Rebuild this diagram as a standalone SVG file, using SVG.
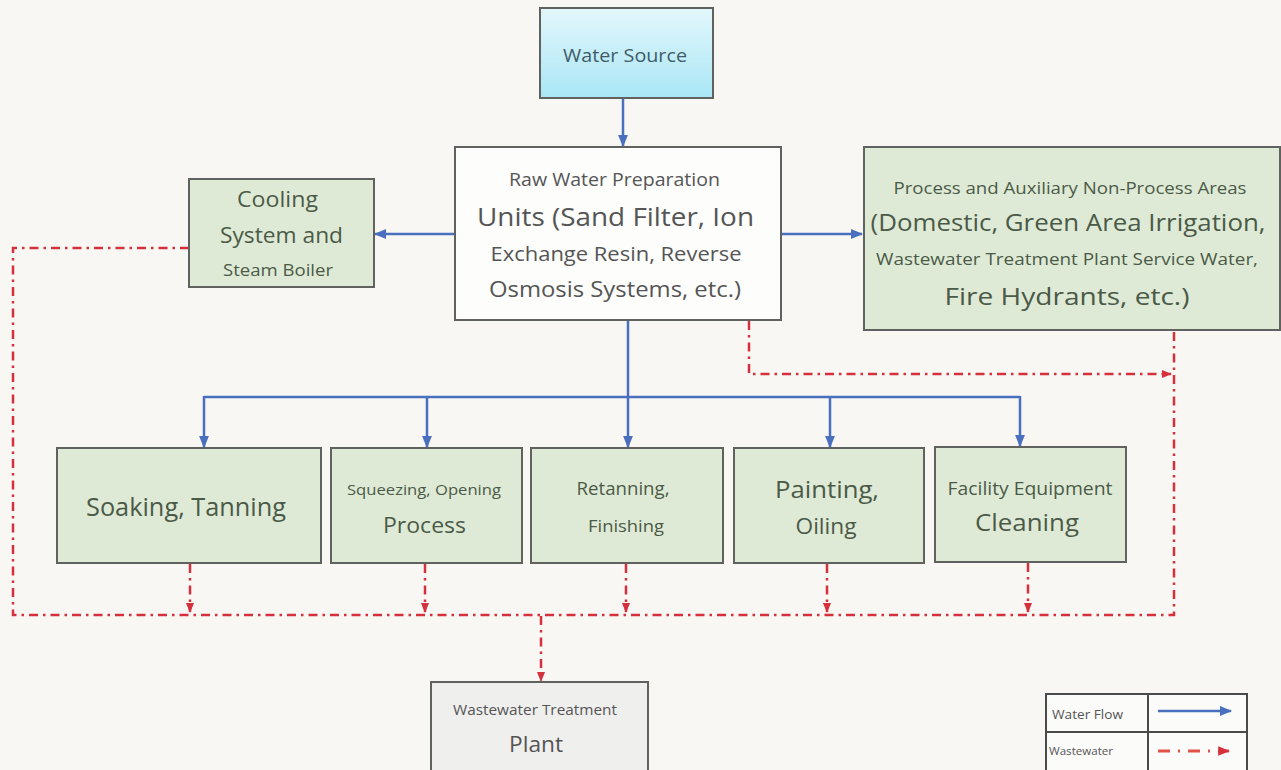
<svg xmlns="http://www.w3.org/2000/svg" width="1281" height="770" viewBox="0 0 1281 770">
<defs>
<linearGradient id="gWater" x1="0" y1="0" x2="0" y2="1">
<stop offset="0" stop-color="#e3f7fb"/>
<stop offset="1" stop-color="#a9e6f5"/>
</linearGradient>
<marker id="ab" viewBox="0 0 10 10" refX="9" refY="5" markerWidth="5" markerHeight="5" orient="auto" markerUnits="strokeWidth">
<path d="M0,1 L10,5 L0,9 z" fill="#4a6fbf"/>
</marker>
<marker id="ar" viewBox="0 0 10 10" refX="9" refY="5" markerWidth="4" markerHeight="4" orient="auto" markerUnits="strokeWidth">
<path d="M0,1 L10,5 L0,9 z" fill="#d6303d"/>
</marker>
<style>
.bg{fill:#f8f7f3}
.box{stroke:#5f625e;stroke-width:2}
.green{fill:#deead5}
.t{font-family:"Open Sans",Roboto,"Liberation Sans",sans-serif;text-anchor:middle}
.tg{fill:#4b5a48}
.tk{fill:#555555}
.blue{fill:none;stroke:#4a6fbf;stroke-width:2.5}
.red{fill:none;stroke:#d6303d;stroke-width:2.5;stroke-dasharray:9 5 2.5 5}
</style>
</defs>
<rect class="bg" x="0" y="0" width="1281" height="770"/>

<g id="connectors">
<line class="blue" x1="623" y1="99" x2="623" y2="146" marker-end="url(#ab)"/>
<line class="blue" x1="455" y1="234" x2="375" y2="234" marker-end="url(#ab)"/>
<line class="blue" x1="782" y1="234" x2="862" y2="234" marker-end="url(#ab)"/>
<line class="blue" x1="628" y1="321" x2="628" y2="447" marker-end="url(#ab)"/>
<line class="blue" x1="204" y1="397" x2="1020" y2="397"/>
<line class="blue" x1="204" y1="396" x2="204" y2="447" marker-end="url(#ab)"/>
<line class="blue" x1="427" y1="397" x2="427" y2="447" marker-end="url(#ab)"/>
<line class="blue" x1="830" y1="397" x2="830" y2="447" marker-end="url(#ab)"/>
<line class="blue" x1="1020" y1="396" x2="1020" y2="446" marker-end="url(#ab)"/>

<polyline class="red" points="189,248 13,248 13,615 1174,615 1174,331"/>
<polyline class="red" points="749,321 749,374 1171,374" marker-end="url(#ar)"/>
<line class="red" x1="190" y1="564" x2="190" y2="612" marker-end="url(#ar)"/>
<line class="red" x1="425" y1="564" x2="425" y2="612" marker-end="url(#ar)"/>
<line class="red" x1="626" y1="564" x2="626" y2="612" marker-end="url(#ar)"/>
<line class="red" x1="827" y1="564" x2="827" y2="612" marker-end="url(#ar)"/>
<line class="red" x1="1028" y1="563" x2="1028" y2="612" marker-end="url(#ar)"/>
<line class="red" x1="541" y1="616" x2="541" y2="681" marker-end="url(#ar)"/>
</g>

<g id="water-source">
<rect class="box" x="540" y="8" width="173" height="90" fill="url(#gWater)"/>
<text class="t" x="625" y="62" font-size="18.5" fill="#3e5c68" textLength="124" lengthAdjust="spacingAndGlyphs">Water Source</text>
</g>

<g id="raw-water">
<rect class="box" x="455" y="147" width="326" height="173" fill="#fdfdfc"/>
<text class="t tk" x="614.5" y="186" font-size="18" textLength="211" lengthAdjust="spacingAndGlyphs">Raw Water Preparation</text>
<text class="t tk" x="615.5" y="226" font-size="25" textLength="277" lengthAdjust="spacingAndGlyphs">Units (Sand Filter, Ion</text>
<text class="t tk" x="616" y="261" font-size="20" textLength="251" lengthAdjust="spacingAndGlyphs">Exchange Resin, Reverse</text>
<text class="t tk" x="615" y="297" font-size="21" textLength="252" lengthAdjust="spacingAndGlyphs">Osmosis Systems, etc.)</text>
</g>

<g id="cooling">
<rect class="box green" x="189" y="179" width="185" height="108"/>
<text class="t tg" x="277.5" y="207" font-size="21" textLength="81" lengthAdjust="spacingAndGlyphs">Cooling</text>
<text class="t tg" x="281.5" y="243" font-size="21" textLength="123" lengthAdjust="spacingAndGlyphs">System and</text>
<text class="t tg" x="278" y="276" font-size="16" textLength="110" lengthAdjust="spacingAndGlyphs">Steam Boiler</text>
</g>

<g id="auxiliary">
<rect class="box green" x="864" y="147" width="416" height="183"/>
<text class="t tg" x="1070" y="194" font-size="16" textLength="353" lengthAdjust="spacingAndGlyphs">Process and Auxiliary Non-Process Areas</text>
<text class="t tg" x="1068" y="231" font-size="24" textLength="395" lengthAdjust="spacingAndGlyphs">(Domestic, Green Area Irrigation,</text>
<text class="t tg" x="1067" y="265" font-size="16" textLength="382" lengthAdjust="spacingAndGlyphs">Wastewater Treatment Plant Service Water,</text>
<text class="t tg" x="1067" y="305" font-size="24.5" textLength="245" lengthAdjust="spacingAndGlyphs">Fire Hydrants, etc.)</text>
</g>

<g id="soaking">
<rect class="box green" x="57" y="448" width="264" height="115"/>
<text class="t tg" x="186" y="516" font-size="25" textLength="200" lengthAdjust="spacingAndGlyphs">Soaking, Tanning</text>
</g>

<g id="squeezing">
<rect class="box green" x="331" y="448" width="191" height="115"/>
<text class="t tg" x="424" y="495" font-size="14.5" textLength="154" lengthAdjust="spacingAndGlyphs">Squeezing, Opening</text>
<text class="t tg" x="424.5" y="533" font-size="21" textLength="83" lengthAdjust="spacingAndGlyphs">Process</text>
</g>

<g id="retanning">
<rect class="box green" x="531" y="448" width="192" height="115"/>
<text class="t tg" x="623" y="495" font-size="17.5" textLength="93" lengthAdjust="spacingAndGlyphs">Retanning,</text>
<text class="t tg" x="626" y="532" font-size="16.5" textLength="76" lengthAdjust="spacingAndGlyphs">Finishing</text>
</g>

<g id="painting">
<rect class="box green" x="734" y="448" width="190" height="115"/>
<text class="t tg" x="827" y="498" font-size="24" textLength="104" lengthAdjust="spacingAndGlyphs">Painting,</text>
<text class="t tg" x="826" y="534" font-size="21" textLength="61" lengthAdjust="spacingAndGlyphs">Oiling</text>
</g>

<g id="facility">
<rect class="box green" x="935" y="447" width="191" height="115"/>
<text class="t tg" x="1030" y="495" font-size="17.5" textLength="165" lengthAdjust="spacingAndGlyphs">Facility Equipment</text>
<text class="t tg" x="1027" y="531" font-size="23" textLength="104" lengthAdjust="spacingAndGlyphs">Cleaning</text>
</g>

<g id="wwtp">
<rect class="box" x="431" y="682" width="217" height="92" fill="#efefee"/>
<text class="t" x="535" y="715" font-size="15" fill="#555555" textLength="164" lengthAdjust="spacingAndGlyphs">Wastewater Treatment</text>
<text class="t" x="536" y="752" font-size="22" fill="#555555" textLength="54" lengthAdjust="spacingAndGlyphs">Plant</text>
</g>

<g id="legend">
<rect x="1046" y="694" width="201" height="80" fill="#fbfbf9" stroke="#4a4a4a" stroke-width="2"/>
<line x1="1148" y1="694" x2="1148" y2="770" stroke="#4a4a4a" stroke-width="2"/>
<line x1="1046" y1="732" x2="1247" y2="732" stroke="#4a4a4a" stroke-width="2"/>
<text x="1052" y="719" font-family="'Open Sans',Roboto,'Liberation Sans',sans-serif" font-size="13" fill="#555555" textLength="71" lengthAdjust="spacingAndGlyphs">Water Flow</text>
<text x="1049" y="755" font-family="'Open Sans',Roboto,'Liberation Sans',sans-serif" font-size="10" fill="#555555" textLength="64" lengthAdjust="spacingAndGlyphs">Wastewater</text>
<line class="blue" x1="1158" y1="711" x2="1231" y2="711" marker-end="url(#ab)"/>
<line x1="1158" y1="751" x2="1229" y2="751" stroke="#e0524a" stroke-width="3" stroke-dasharray="12 8 2 8" marker-end="url(#ar)"/>
</g>
</svg>
